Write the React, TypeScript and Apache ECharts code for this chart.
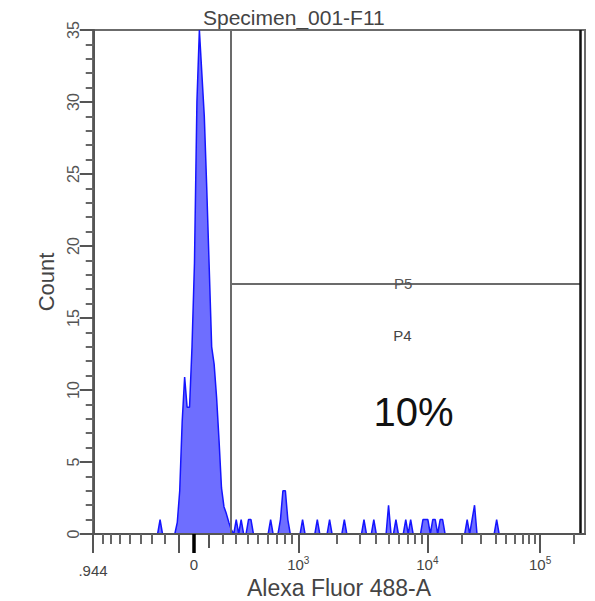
import React, { useEffect, useRef } from 'react';
import * as echarts from 'echarts';

// ---------- texts ----------
const TITLE = 'Specimen_001-F11';
const X_NAME = 'Alexa Fluor 488-A';
const Y_NAME = 'Count';

// ---------- biexponential display scale (value -> display channel) ----------
const X_MIN_VALUE = -944;
const X_MAX_VALUE = 250000;
const LIN_CENTER = 40.73; // channel of value 0
const LIN_GAIN = 28.72;
const LIN_WIDTH = 480;
const DECADE_3_4 = 52.55; // channels per decade 10^3..10^4
const DECADE_4_5 = 45.9; // channels per decade above 10^4

function toChannel(v: number): number {
  if (v <= 1000) return LIN_CENTER + LIN_GAIN * Math.asinh(v / LIN_WIDTH);
  const c3 = LIN_CENTER + LIN_GAIN * Math.asinh(1000 / LIN_WIDTH);
  if (v <= 10000) return c3 + DECADE_3_4 * Math.log10(v / 1000);
  return c3 + DECADE_3_4 + DECADE_4_5 * Math.log10(v / 10000);
}

// ---------- tick labels ----------
const LABEL_VALUES = [-944, 0, 1000, 10000, 100000];
const LABEL_BASE = ['.944', '0', '10', '10', '10'];
const LABEL_EXP = ['', '', '3', '4', '5'];

const LONG_TICKS = [-944, -100, 1000, 10000, 100000];
const MID_TICKS = [100];
const ZERO_TICKS = [0];
const MINOR_TICKS = [
  -800, -700, -600, -500, -400, -300, -200,
  200, 300, 400, 500, 600, 700, 800, 900,
  2000, 3000, 4000, 5000, 6000, 7000, 8000, 9000,
  20000, 30000, 40000, 50000, 60000, 70000, 80000, 90000,
  200000,
];

// ---------- histogram (counts per display channel) ----------
const PEAK_START = 33;
const PEAK_COUNTS = [
  0, 0.8, 3, 7.8, 10.9, 8.8, 8.8, 13, 18.8, 30, 35, 32, 29, 24, 18.5,
  13, 11.8, 9.5, 6.5, 3.2, 1.9, 1.4, 0.8, 0.3, 0,
];
const EVENT_CHANNELS = [
  27, 58, 60, 63, 64, 72, 76, 77, 78, 79, 85, 91, 96, 102, 110, 114, 120, 123,
  127, 129, 134, 135, 136, 138, 139, 141, 142, 152, 154, 155, 164,
];
const EVENT_COUNTS = [
  1, 1, 1, 1, 1, 1, 1, 3, 3, 1, 1, 1, 1, 1, 1, 1, 2, 1,
  1, 1, 1, 1, 1, 1, 1, 1, 1, 1, 1, 2, 1,
];
const N_CHANNELS = 200;

// ---------- gates & annotations ----------
const GATE_LEFT_VALUE = 263;
const GATE_RIGHT_VALUE = 226000;
const GATE_SPLIT_COUNT = 17.4;
const Y_MAX = 35;
const ANNOTATIONS = [
  { text: 'P5', value: 6500, count: 17.4, size: 15, color: '#555' },
  { text: 'P4', value: 6400, count: 13.8, size: 15, color: '#444' },
  { text: '10%', value: 7800, count: 8.5, size: 40, color: '#111' },
];

const FONT = 'Liberation Sans, Arial, sans-serif';

export default function App() {
  const ref = useRef<HTMLDivElement>(null);

  useEffect(() => {
    if (!ref.current) return;
    const chart = echarts.init(ref.current, undefined, { renderer: 'svg' });

    const counts: number[] = new Array(N_CHANNELS).fill(0);
    PEAK_COUNTS.forEach((c, i) => (counts[PEAK_START + i] = c));
    EVENT_CHANNELS.forEach((ch, i) => (counts[ch] = EVENT_COUNTS[i]));
    const data = counts.map((c, i) => [i, c]);

    const xMin = toChannel(X_MIN_VALUE);
    const xMax = toChannel(X_MAX_VALUE);
    const labelChannels = LABEL_VALUES.map(toChannel);

    const labelFormatter = (val: number) => {
      let idx = 0;
      let best = Infinity;
      labelChannels.forEach((c, i) => {
        const d = Math.abs(c - val);
        if (d < best) {
          best = d;
          idx = i;
        }
      });
      if (idx === 0) return `{low|${LABEL_BASE[idx]}}`;
      if (!LABEL_EXP[idx]) return `{base|${LABEL_BASE[idx]}}`;
      return `{base|${LABEL_BASE[idx]}}{exp|${LABEL_EXP[idx]}}`;
    };

    const tickAxis = (values: number[], length: number, color: string, width: number) => ({
      type: 'value',
      gridIndex: 0,
      position: 'bottom',
      offset: 0,
      min: xMin,
      max: xMax,
      z: 10,
      axisLine: { show: false },
      axisLabel: { show: false },
      splitLine: { show: false },
      axisTick: {
        show: true,
        customValues: values.map(toChannel),
        length,
        lineStyle: { color, width },
      },
    });

    const gL = toChannel(GATE_LEFT_VALUE);
    const gR = toChannel(GATE_RIGHT_VALUE);

    chart.setOption({
      animation: false,
      textStyle: { fontFamily: FONT },
      title: {
        text: TITLE,
        left: 198,
        top: 2,
        textStyle: { fontSize: 21, fontWeight: 'normal', color: '#444', fontFamily: FONT },
      },
      grid: {
        left: 93,
        right: 10,
        top: 30,
        bottom: 67,
        show: true,
        borderColor: '#6b6b6b',
        borderWidth: 2,
        containLabel: false,
        outerBoundsMode: 'none',
      },
      xAxis: [
        {
          type: 'value',
          position: 'bottom',
          offset: 0,
          min: xMin,
          max: xMax,
          z: 10,
          name: X_NAME,
          nameLocation: 'middle',
          nameGap: 42,
          nameMoveOverlap: false,
          nameTextStyle: { fontSize: 23, color: '#444', fontFamily: FONT },
          axisLine: { show: true, lineStyle: { color: '#555', width: 2 } },
          splitLine: { show: false },
          axisTick: {
            show: true,
            customValues: LONG_TICKS.map(toChannel),
            length: 19,
            lineStyle: { color: '#555', width: 2 },
          },
          axisLabel: {
            customValues: labelChannels,
            margin: 22,
            formatter: labelFormatter,
            rich: {
              base: { fontSize: 15, lineHeight: 16, color: '#444', fontFamily: FONT },
              exp: {
                fontSize: 10,
                lineHeight: 10,
                color: '#444',
                fontFamily: FONT,
                padding: [0, 0, 7, 0],
              },
              low: {
                fontSize: 15,
                lineHeight: 16,
                color: '#444',
                fontFamily: FONT,
                padding: [12, 0, 0, 0],
              },
            },
          },
        },
        tickAxis(MINOR_TICKS, 10, '#666', 2),
        tickAxis(MID_TICKS, 14, '#555', 2),
        tickAxis(ZERO_TICKS, 19, '#000', 3.5),
      ],
      yAxis: {
        type: 'value',
        min: 0,
        max: Y_MAX,
        interval: 5,
        name: Y_NAME,
        nameLocation: 'middle',
        nameGap: 36,
        nameMoveOverlap: false,
        nameTextStyle: { fontSize: 22, color: '#444', fontFamily: FONT },
        axisLine: { show: true, lineStyle: { color: '#555', width: 2 } },
        axisTick: { show: true, length: 14, lineStyle: { color: '#555', width: 2 } },
        minorTick: { show: true, splitNumber: 5, length: 8, lineStyle: { color: '#666', width: 2 } },
        splitLine: { show: false },
        minorSplitLine: { show: false },
        axisLabel: { rotate: 90, fontSize: 16, color: '#555', margin: 12, fontFamily: FONT },
      },
      series: [
        {
          type: 'line',
          data,
          showSymbol: false,
          symbol: 'none',
          smooth: false,
          lineStyle: { color: '#1515ff', width: 1.5 },
          areaStyle: { color: '#6e6eff', opacity: 1 },
          z: 2,
          markLine: {
            silent: true,
            symbol: ['none', 'none'],
            label: { show: false },
            animation: false,
            lineStyle: { color: '#6b6b6b', width: 2, type: 'solid' },
            data: [
              [{ coord: [gL, 0] }, { coord: [gL, Y_MAX] }],
              [{ coord: [gL, GATE_SPLIT_COUNT] }, { coord: [gR, GATE_SPLIT_COUNT] }],
              [
                { coord: [gR, 0], lineStyle: { color: '#111', width: 2.5, type: 'solid' } },
                { coord: [gR, Y_MAX] },
              ],
            ],
          },
          markPoint: {
            silent: true,
            animation: false,
            symbol: 'circle',
            symbolSize: 1,
            itemStyle: { color: 'rgba(0,0,0,0)' },
            data: ANNOTATIONS.map((a) => ({
              coord: [toChannel(a.value), a.count],
              label: {
                show: true,
                position: 'inside',
                formatter: a.text,
                fontSize: a.size,
                color: a.color,
                fontFamily: FONT,
              },
            })),
          },
        },
      ],
    });

    return () => chart.dispose();
  }, []);

  return (
    <div
      ref={ref}
      style={{ position: 'absolute', left: 0, top: 0, width: 595, height: 601 }}
    />
  );
}
